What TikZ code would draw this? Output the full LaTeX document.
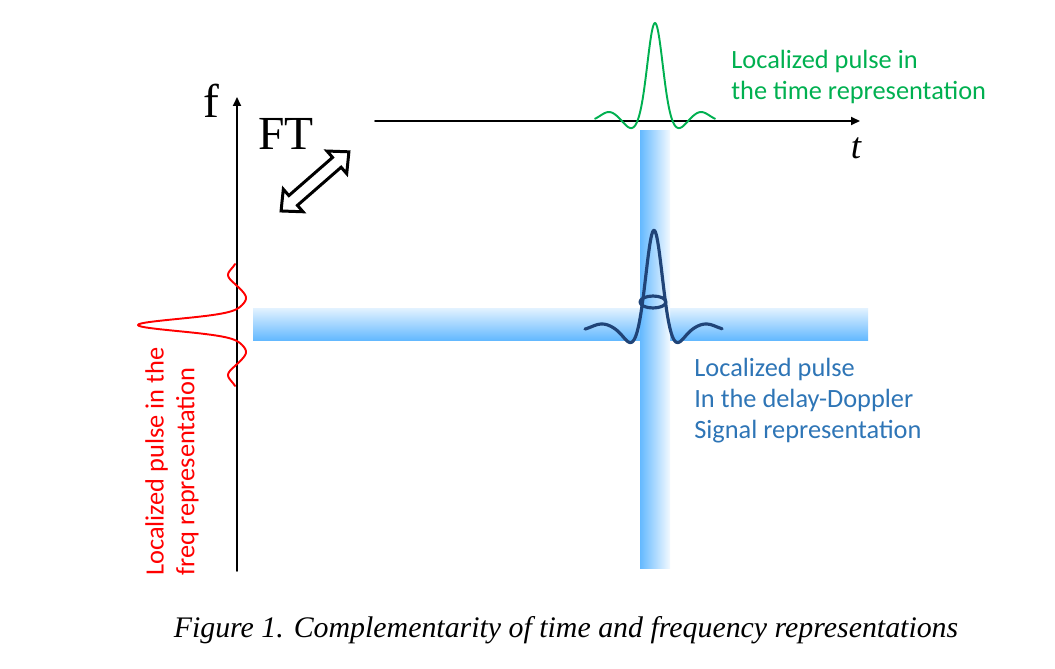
\documentclass[tikz,border=0pt]{standalone}
\usepackage{fontspec}
\setmainfont{Liberation Serif}
\newfontfamily\calibri{Carlito}
\usetikzlibrary{arrows.meta}

\begin{document}
\begin{tikzpicture}[x=0.02cm, y=-0.02cm, line cap=round, line join=round,
    axis/.style={line width=1.1pt, -{Triangle[length=1.8mm,width=1.6mm]}},
    pulse/.style={line width=1.1pt, samples=161, variable=\t},
    note/.style={font=\calibri\fontsize{15}{17.6}\selectfont, align=left, inner sep=0pt, anchor=west},
    declare function={gauss(\u,\w)=exp(-(\u/\w)*(\u/\w));
                      lobe(\u,\m,\w)=gauss(abs(\u)-\m,\w);}]
  \definecolor{timecol}{RGB}{0,176,80}
  \definecolor{ddcol}{RGB}{46,117,182}
  \definecolor{navycol}{RGB}{32,68,120}
  \definecolor{bandcol}{RGB}{100,185,255}
  \useasboundingbox (0,0) rectangle (1055,669);

  % bands of the delay-Doppler plane
  \shade[top color=bandcol!18, bottom color=bandcol] (253,308) rectangle (868,340);
  \shade[left color=bandcol, right color=bandcol!8] (640,131) rectangle (670,568);

  % axes
  \coordinate (fbase) at (237,571);
  \coordinate (ftip) at (237,97);
  \coordinate (tbase) at (375,121);
  \coordinate (ttip) at (860,121);
  \draw[axis] (fbase) -- (ftip);
  \draw[axis] (tbase) -- (ttip);
  \node (flabel) at (211,101) {\fontsize{27}{30}\selectfont f};
  \node (tlabel) at (856,148) {\fontsize{21}{24}\selectfont\itshape t};
  \node (ftlabel) at (286,134) {\fontsize{27}{30}\selectfont FT};

  % hollow double arrow
  \begin{scope}[shift={(315,181.4)}, rotate=41.1]
    \draw[line width=1.7pt, line join=miter, fill=white]
      (-45,0) -- (-29,15) -- (-29,6.5) -- (29,6.5) -- (29,15) -- (45,0)
      -- (29,-15) -- (29,-6.5) -- (-29,-6.5) -- (-29,-15) -- cycle;
  \end{scope}

  % pulses
  \draw[pulse, timecol, domain=-60:60]
    plot ({655+\t},{121-(98*gauss(\t,10.5)-8*lobe(\t,23,10)+9*lobe(\t,46,12))});
  \draw[pulse, red, domain=-61:61]
    plot ({237-(99*gauss(\t,8.5)-9*lobe(\t,27,10)+9*lobe(\t,50,9))},{325+\t});
  \draw[pulse, navycol, line width=1.8pt, domain=-69:68]
    plot ({654+\t},{331-(101*gauss(\t,11)-13*lobe(\t,22,11)+7*lobe(\t,52,15))});
  \draw[navycol, line width=1.8pt] (653,302) ellipse [x radius=13, y radius=6];

  % labels
  \node[note, text=timecol] (timenote) at (731,77)
    {Localized pulse in\\the time representation};
  \node[note, text=ddcol] (ddnote) at (694,401)
    {Localized pulse\\In the delay-Doppler\\Signal representation};
  \node[note, text=red, rotate=90] (freqnote) at (172,576)
    {Localized pulse in the\\freq representation};
  \node (caption) at (566,630)
    {\fontsize{17}{20}\selectfont\itshape Figure 1. Complementarity of time and frequency representations};
\end{tikzpicture}
\end{document}
